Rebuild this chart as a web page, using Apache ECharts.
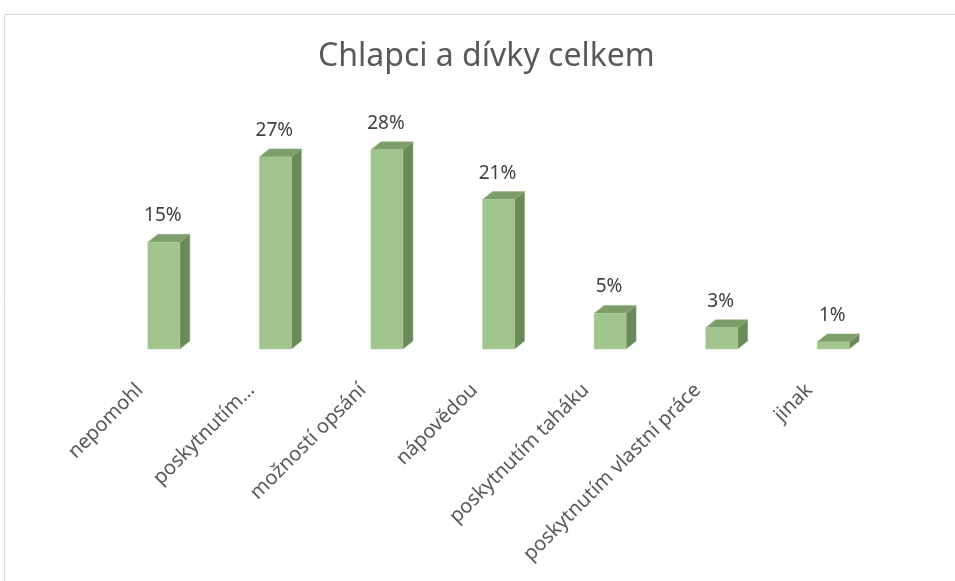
<!DOCTYPE html>
<html>
<head>
<meta charset="utf-8">
<script src="https://cdn.jsdelivr.net/npm/echarts@6/dist/echarts.min.js"></script>
<style>
  html, body { margin: 0; padding: 0; background: #fff; }
  #chart { width: 955px; height: 581px; }
</style>
</head>
<body>
<div id="chart"></div>
<script>
// kategorie a hodnoty (%)
var categories = [
  "nepomohl",
  "poskytnutím…",
  "možností opsání",
  "nápovědou",
  "poskytnutím taháku",
  "poskytnutím vlastní práce",
  "jinak"
];
var values = [15, 27, 28, 21, 5, 3, 1];

var chart = echarts.init(document.getElementById("chart"));

// 3D sloupec: přední stěna, bok, vršek + popisek
function renderBar(params, api) {
  var top = api.coord([api.value(0), api.value(1)]);
  var base = api.coord([api.value(0), 0]);
  var w = 32, dx = 10, dy = 8;
  var x0 = top[0] - w / 2;
  var x1 = top[0] + w / 2;
  return {
    type: "group",
    children: [
      {
        type: "polygon",
        shape: { points: [[x1, top[1]], [x1 + dx, top[1] - dy], [x1 + dx, base[1] - dy], [x1, base[1]]] },
        style: { fill: "#6b8a5a", stroke: "#7e9c6c", lineWidth: 0.5 }
      },
      {
        type: "polygon",
        shape: { points: [[x0, top[1]], [x0 + dx, top[1] - dy], [x1 + dx, top[1] - dy], [x1, top[1]]] },
        style: { fill: "#7d9e6b", stroke: "#92b27f", lineWidth: 0.5 }
      },
      {
        type: "rect",
        shape: { x: x0, y: top[1], width: w, height: base[1] - top[1] },
        style: { fill: "#a0c48c", stroke: "#b3d2a0", lineWidth: 0.5 }
      },
      {
        type: "text",
        x: top[0] - 1,
        y: top[1] - dy - 9,
        style: {
          text: api.value(1) + "%",
          fill: "#404040",
          font: '19px "Noto Sans"',
          align: "center",
          verticalAlign: "bottom"
        }
      }
    ]
  };
}

chart.setOption({
  animation: false,
  title: {
    text: "Chlapci a dívky celkem",
    left: 318,
    top: 41,
    padding: 0,
    textStyle: {
      color: "#595959",
      fontFamily: "Noto Sans",
      fontSize: 32,
      fontWeight: "normal"
    }
  },
  graphic: [
    {
      type: "rect",
      shape: { x: 4.5, y: 14.5, width: 1000, height: 700 },
      style: { fill: "none", stroke: "#d9d9d9", lineWidth: 1 },
      silent: true
    }
  ],
  grid: {
    left: 108,
    right: 66,
    top: 100,
    bottom: 232
  },
  xAxis: {
    type: "category",
    data: categories,
    axisLine: { show: false },
    axisTick: { show: false },
    axisLabel: {
      rotate: 45,
      interval: 0,
      margin: 14,
      padding: [0, 34, 0, 0],
      color: "#595959",
      fontFamily: "Noto Sans",
      fontSize: 20
    }
  },
  yAxis: {
    type: "value",
    min: 0,
    max: 35,
    show: false,
    splitLine: { show: false }
  },
  series: [
    {
      type: "custom",
      renderItem: renderBar,
      data: values.map(function (v, i) { return [i, v]; })
    }
  ]
});
</script>
</body>
</html>
